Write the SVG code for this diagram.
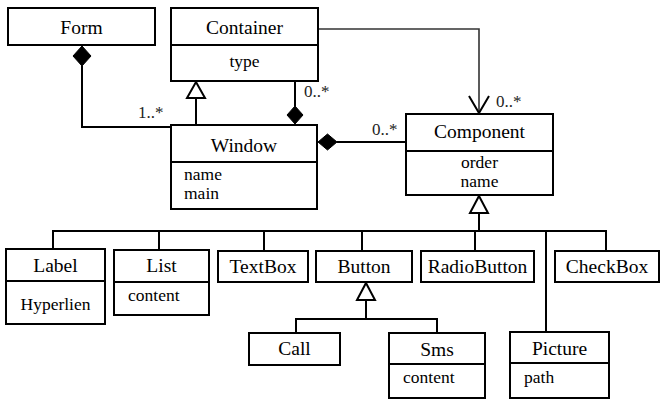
<svg xmlns="http://www.w3.org/2000/svg" width="666" height="411" viewBox="0 0 666 411">
<style>
.box{fill:#fff;stroke:#000;stroke-width:2}
.div{stroke:#000;stroke-width:2}
.t{font-family:"Liberation Serif","Times New Roman",serif;font-size:19.5px;fill:#000;text-anchor:middle}
.a{font-family:"Liberation Serif","Times New Roman",serif;font-size:17.5px;fill:#000}
.ac{text-anchor:middle}
.m{font-family:"Liberation Serif","Times New Roman",serif;font-size:17px;fill:#222}
.ln{fill:none;stroke:#000;stroke-width:2}
.thin{fill:none;stroke:#333;stroke-width:1.6}
.dia{fill:#000;stroke:#000;stroke-width:1}
.tri{fill:#fff;stroke:#000;stroke-width:2;stroke-linejoin:miter}
</style>
<rect width="666" height="411" fill="#fff"/>
<g id="connectors">
  <!-- Form composition to Window -->
  <polyline class="ln" points="82,66 82,127 171,127"/>
  <polygon class="dia" points="82,46 91,56 82,66 73,56"/>
  <text class="m" x="138" y="118">1..*</text>
  <!-- Window generalization to Container -->
  <line class="ln" x1="196" y1="125" x2="196" y2="98"/>
  <polygon class="tri" points="196,82 205,98 187,98"/>
  <!-- Container composition Window -->
  <line class="ln" x1="295" y1="81" x2="295" y2="106"/>
  <polygon class="dia" points="295,106 303,115 295,124 287,115"/>
  <text class="m" x="304" y="97">0..*</text>
  <!-- Window composition Component -->
  <line class="ln" x1="337" y1="142" x2="406" y2="142"/>
  <polygon class="dia" points="318,142 327.5,134 337,142 327.5,150"/>
  <text class="m" x="372" y="135">0..*</text>
  <!-- Container association to Component -->
  <polyline class="thin" points="318,29 479,29 479,113"/>
  <polyline class="ln" points="469,96 479,113 489,96"/>
  <text class="m" x="496" y="107">0..*</text>
  <!-- Component generalization bus -->
  <polygon class="tri" points="479,196 488,213 470,213"/>
  <line class="ln" x1="479" y1="213" x2="479" y2="231"/>
  <line class="ln" x1="52" y1="231" x2="607" y2="231"/>
  <line class="ln" x1="53" y1="231" x2="53" y2="249"/>
  <line class="ln" x1="159" y1="231" x2="159" y2="250"/>
  <line class="ln" x1="264" y1="231" x2="264" y2="251"/>
  <line class="ln" x1="362" y1="231" x2="362" y2="251"/>
  <line class="ln" x1="475" y1="231" x2="475" y2="251"/>
  <line class="ln" x1="546" y1="231" x2="546" y2="332"/>
  <line class="ln" x1="606" y1="231" x2="606" y2="251"/>
  <!-- Button generalization -->
  <polygon class="tri" points="366,283 375,300 357,300"/>
  <line class="ln" x1="366" y1="300" x2="366" y2="319"/>
  <polyline class="ln" points="296,333 296,319 437,319 437,333"/>
</g>
<g id="Form">
  <rect class="box" x="8" y="8" width="147" height="37"/>
  <text class="t" x="81.5" y="34">Form</text>
</g>
<g id="Container">
  <rect class="box" x="171" y="8" width="147" height="73"/>
  <line class="div" x1="171" y1="45" x2="318" y2="45"/>
  <text class="t" x="244.5" y="34">Container</text>
  <text class="a ac" x="244.5" y="67">type</text>
</g>
<g id="Window">
  <rect class="box" x="171" y="125" width="146" height="84"/>
  <line class="div" x1="171" y1="162" x2="317" y2="162"/>
  <text class="t" x="244" y="152">Window</text>
  <text class="a" x="184" y="180">name</text>
  <text class="a" x="184" y="199">main</text>
</g>
<g id="Component">
  <rect class="box" x="406" y="114" width="147" height="81"/>
  <line class="div" x1="406" y1="151" x2="553" y2="151"/>
  <text class="t" x="479.5" y="138">Component</text>
  <text class="a ac" x="479.5" y="168">order</text>
  <text class="a ac" x="479.5" y="187">name</text>
</g>
<g id="Label">
  <rect class="box" x="6" y="249" width="99" height="75"/>
  <line class="div" x1="6" y1="281" x2="105" y2="281"/>
  <text class="t" x="55.5" y="272">Label</text>
  <text class="a ac" x="55.5" y="310">Hyperlien</text>
</g>
<g id="List">
  <rect class="box" x="114" y="250" width="95" height="65"/>
  <line class="div" x1="114" y1="282" x2="209" y2="282"/>
  <text class="t" x="161.5" y="272">List</text>
  <text class="a" x="128" y="301">content</text>
</g>
<g id="TextBox">
  <rect class="box" x="218" y="251" width="90" height="31"/>
  <text class="t" x="263" y="273">TextBox</text>
</g>
<g id="Button">
  <rect class="box" x="316" y="251" width="96" height="31"/>
  <text class="t" x="364" y="273">Button</text>
</g>
<g id="RadioButton">
  <rect class="box" x="421" y="251" width="113" height="31"/>
  <text class="t" x="477.5" y="273">RadioButton</text>
</g>
<g id="CheckBox">
  <rect class="box" x="555" y="251" width="104" height="31"/>
  <text class="t" x="607" y="273">CheckBox</text>
</g>
<g id="Call">
  <rect class="box" x="249" y="333" width="91" height="32"/>
  <text class="t" x="294.5" y="355">Call</text>
</g>
<g id="Sms">
  <rect class="box" x="389" y="333" width="96" height="65"/>
  <line class="div" x1="389" y1="364" x2="485" y2="364"/>
  <text class="t" x="437" y="356">Sms</text>
  <text class="a" x="403" y="383">content</text>
</g>
<g id="Picture">
  <rect class="box" x="510" y="332" width="99" height="66"/>
  <line class="div" x1="510" y1="363" x2="609" y2="363"/>
  <text class="t" x="559.5" y="355">Picture</text>
  <text class="a" x="524" y="383">path</text>
</g>
</svg>
